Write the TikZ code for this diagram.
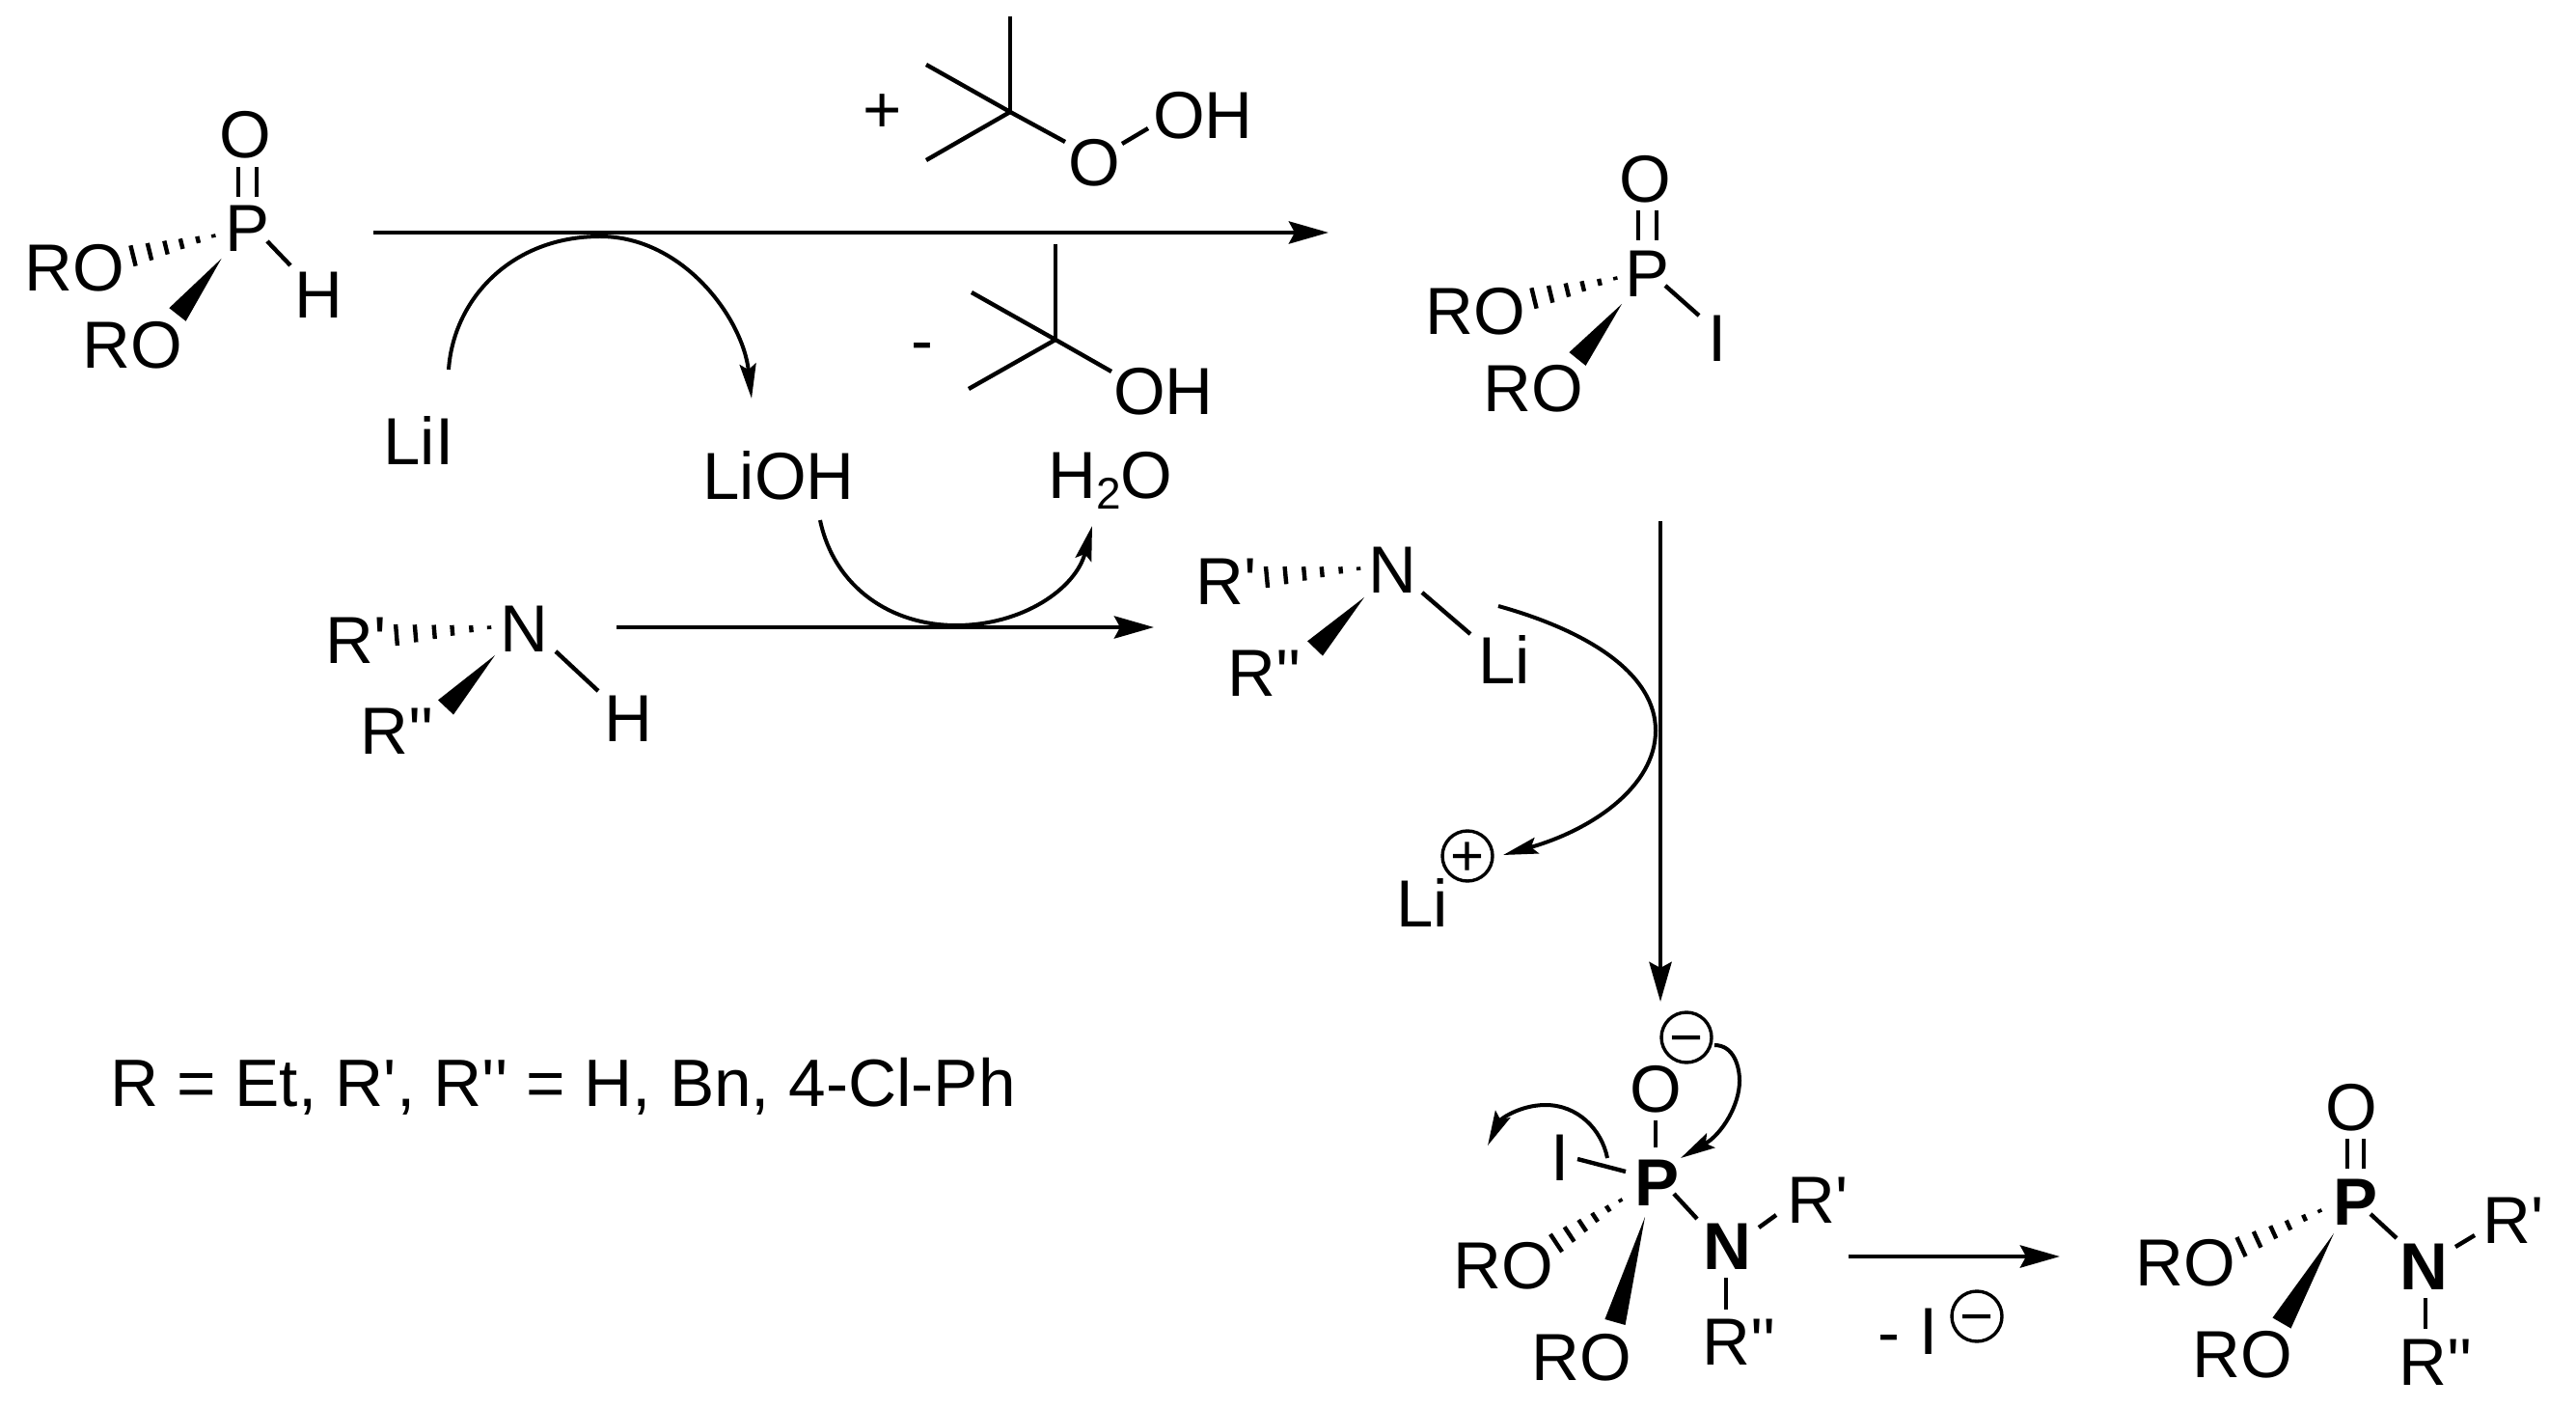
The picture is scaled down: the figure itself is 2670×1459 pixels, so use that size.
\documentclass[tikz,border=0pt]{standalone}
\usepackage{fontspec}
\usetikzlibrary{arrows.meta,calc}
\newfontfamily\chem{Liberation Sans}
\newcommand\bond[4]{\draw[bondline] ([shift={(#2)}]#1.center) -- ([shift={(#4)}]#3.center);}
\newcommand\wbond[4]{%
  \path ([shift={(#2)}]#1.center) coordinate (wa) ([shift={(#4)}]#3.center) coordinate (wb);
  \fill[black] (wa) -- ($(wb)!5.5pt!90:(wa)$) -- ($(wb)!5.5pt!-90:(wa)$) -- cycle;}
\newcommand\hbond[4]{%
  \path ([shift={(#2)}]#1.center) coordinate (wa) ([shift={(#4)}]#3.center) coordinate (wb);
  \foreach \f in {0.02,0.21,0.41,0.6,0.8,1}{%
    \pgfmathsetmacro\h{0.8+\f*4.7}%
    \path ($(wa)!\f!(wb)$) coordinate (wp);
    \draw[hashline] ($(wp)!\h pt!90:(wa)$) -- ($(wp)!\h pt!-90:(wa)$);}}
\tikzset{
  x=0.5pt,y=-0.5pt,
  atom/.style={inner sep=0pt,outer sep=0pt,text height=24.7pt,text depth=0pt,
    font=\chem\fontsize{34.5}{36}\selectfont},
  batom/.style={atom,font=\chem\bfseries\fontsize{34.5}{36}\selectfont},
  chargering/.style={circle,draw=black,line width=1.7pt,inner sep=0pt,minimum size=26pt,
    text height=5pt,text depth=5pt,font=\chem\fontsize{30}{32}\selectfont},
  bondline/.style={line width=2.2pt,black},
  hashline/.style={line width=2.2pt,black},
  rxn/.style={line width=2.4pt,black,-{Stealth[length=20.5pt,width=11.5pt,inset=3pt]}},
  curved/.style={line width=2pt,black,-{Stealth[length=18pt,width=8.5pt,inset=3pt]}},
}
\newcommand\plusmark{\raisebox{-10.35pt}{+}}
\newcommand\minusmark{\raisebox{-10.35pt}{−}}
\begin{document}
\begin{tikzpicture}
\useasboundingbox (0,0) rectangle (2670,1459);
\fill[white] (0,0) rectangle (2670,1459);

% phosphite
\node[atom] (O1) at (254.5,139) {O};
\node[atom] (P1) at (257,236) {P};
\node[atom] (H1) at (330,305) {H};
\node[atom] (RO1a) at (77,277) {RO};
\node[atom] (RO1b) at (137,357) {RO};
\bond{P1}{-10,-32}{O1}{-7.5,34}
\bond{P1}{9,-32}{O1}{11.5,34}
\bond{P1}{20,14}{H1}{-29,-30}
\hbond{P1}{-34,8}{RO1a}{61,-12}
\wbond{P1}{-27.5,32}{RO1b}{47,-31}

% tBuOOH
\node[atom] (plus1) at (915,113) {+};
\coordinate (C1) at (1047,116);
\coordinate (C1a) at (1047,17);
\coordinate (C1b) at (960,67);
\coordinate (C1c) at (960,166);
\node[atom] (O2) at (1134,168) {O};
\node[atom] (OH1) at (1247,119) {OH};
\draw[bondline] (C1) -- (C1a);
\draw[bondline] (C1) -- (C1b);
\draw[bondline] (C1) -- (C1c);
\bond{C1}{0,0}{O2}{-30,-21}
\bond{O2}{29,-19}{OH1}{-57,14}

% tBuOH
\node[atom] (minus1) at (956,352) {-};
\coordinate (C2) at (1094,352);
\coordinate (C2a) at (1094,253);
\coordinate (C2b) at (1007,303);
\coordinate (C2c) at (1004,403);
\node[atom] (OH2) at (1206,405) {OH};
\draw[bondline] (C2) -- (C2a);
\draw[bondline] (C2) -- (C2b);
\draw[bondline] (C2) -- (C2c);
\bond{C2}{0,0}{OH2}{-54,-20}

% main arrow
\coordinate (A1s) at (387,241);
\coordinate (A1e) at (1377,241);
\draw[rxn] (A1s) -- (A1e);

% reagents
\node[atom] (LiI) at (434,457) {LiI};
\node[atom] (LiOH) at (807,493) {LiOH};
\node[atom] (H2O) at (1151,492) {H\lower5.5pt\hbox{\fontsize{23}{25}\selectfont 2}O};
\coordinate (cv1) at (622,245);
\draw[curved] ([shift={(31,-74)}]LiI.center) .. controls (470,310) and (530,245) .. (cv1)
  .. controls (708,245) and (770,330) .. ([shift={(-28,-80)}]LiOH.center);
\coordinate (cv2) at (991,648);
\draw[curved] ([shift={(43,46)}]LiOH.center) .. controls (865,610) and (925,648) .. (cv2)
  .. controls (1060,648) and (1115,610) .. ([shift={(-19,53)}]H2O.center);

% amine
\node[atom] (N1) at (543,651) {N};
\node[atom] (Rp1) at (369,663) {R'};
\node[atom] (Rpp1) at (412,757) {R''};
\node[atom] (H2) at (651,744) {H};
\bond{N1}{33,24}{H2}{-31,-28}
\hbond{N1}{-34,-1}{Rp1}{42,-5}
\wbond{N1}{-30,28}{Rpp1}{50,-24}
\coordinate (A2s) at (639,650);
\coordinate (A2e) at (1196,650);
\draw[rxn] (A2s) -- (A2e);

% iodophosphate
\node[atom] (O3) at (1705,185) {O};
\node[atom] (P3) at (1707,283) {P};
\node[atom] (I3) at (1780,350) {I};
\node[atom] (RO3a) at (1529,322) {RO};
\node[atom] (RO3b) at (1589,402) {RO};
\bond{P3}{-9,-34}{O3}{-7,33}
\bond{P3}{10,-34}{O3}{12,33}
\bond{P3}{19,13}{I3}{-19,-23}
\hbond{P3}{-31,5}{RO3a}{61,-13}
\wbond{P3}{-26,32}{RO3b}{46,-30}

% lithium amide
\node[atom] (N2) at (1443,590) {N};
\node[atom] (Rp2) at (1271,602) {R'};
\node[atom] (Rpp2) at (1311,697) {R''};
\node[atom] (Li2) at (1559,684) {Li};
\bond{N2}{31,24}{Li2}{-35,-27}
\hbond{N2}{-33,-1}{Rp2}{42,-4}
\wbond{N2}{-29,29}{Rpp2}{52,-25}

% Li+
\node[atom] (Li3) at (1474,936) {Li};
\node[chargering] (ch1) at (1521,887) {\plusmark};
\coordinate (cv3) at (1716,757);
\draw[curved] ([shift={(-6,-56)}]Li2.center) .. controls (1650,655) and (1716,700) .. (cv3)
  .. controls (1716,815) and (1650,860) .. ([shift={(37,-1)}]ch1.center);

% vertical arrow
\coordinate (A3s) at (1721,540);
\coordinate (A3e) at (1721,1038);
\draw[rxn] (A3s) -- (A3e);

% note
\node[anchor=base west,inner sep=0pt,font=\chem\fontsize{34.7}{36}\selectfont] (note) at (114,1146) {R = Et, R', R'' = H, Bn, 4-Cl-Ph};

% pentacoordinate intermediate
\node[chargering] (ch2) at (1748,1075) {\minusmark};
\node[atom] (O4) at (1716,1128) {O};
\node[batom] (P4) at (1717,1225) {P};
\node[atom] (I4) at (1617,1199) {I};
\node[batom] (N4) at (1790,1291) {N};
\node[atom] (Rp4) at (1884,1243) {R'};
\node[atom] (Rpp4) at (1803,1390) {R''};
\node[atom] (RO4a) at (1558,1311) {RO};
\node[atom] (RO4b) at (1639,1406) {RO};
\bond{O4}{0,33}{P4}{-1,-36}
\bond{I4}{18,2}{P4}{-32,-11}
\bond{P4}{18,12}{N4}{-31,-28}
\bond{N4}{33,-19}{Rp4}{-43,16}
\bond{N4}{-1,33}{Rpp4}{-14,-33}
\hbond{P4}{-36,18}{RO4a}{55,-23}
\wbond{P4}{-12,36}{RO4b}{35,-36}
\coordinate (cv4) at (1803,1120);
\draw[curved] ([shift={(29,8)}]ch2.center) .. controls (1797,1083) and (1803,1105) .. (cv4)
  .. controls (1803,1145) and (1785,1175) .. ([shift={(25,-25)}]P4.center);
\coordinate (cv5) at (1602,1145);
\coordinate (cv5e) at (1542,1187);
\draw[curved] ([shift={(-51,-25)}]P4.center) .. controls (1660,1170) and (1635,1145) .. (cv5)
  .. controls (1575,1145) and (1555,1160) .. (cv5e);

% last arrow
\coordinate (A4s) at (1916,1302);
\coordinate (A4e) at (2135,1302);
\draw[rxn] (A4s) -- (A4e);
\node[atom] (minus2) at (1958,1380) {-};
\node[atom] (I5) at (1999,1379) {I};
\node[chargering] (ch3) at (2049,1364) {\minusmark};

% product
\node[atom] (O5) at (2437,1147) {O};
\node[batom] (P5) at (2441,1245) {P};
\node[batom] (N5) at (2512,1312) {N};
\node[atom] (Rp5) at (2605,1264) {R'};
\node[atom] (Rpp5) at (2525,1411) {R''};
\node[atom] (RO5a) at (2265,1308) {RO};
\node[atom] (RO5b) at (2324,1403) {RO};
\bond{P5}{-8,-34}{O5}{-4,33}
\bond{P5}{9,-34}{O5}{13,33}
\bond{P5}{16,13}{N5}{-28,-29}
\bond{N5}{33,-20}{Rp5}{-40,16}
\bond{N5}{2,33}{Rpp5}{-11,-34}
\hbond{P5}{-35,9}{RO5a}{58,-16}
\wbond{P5}{-22,33}{RO5b}{41,-32}
\end{tikzpicture}
\end{document}
